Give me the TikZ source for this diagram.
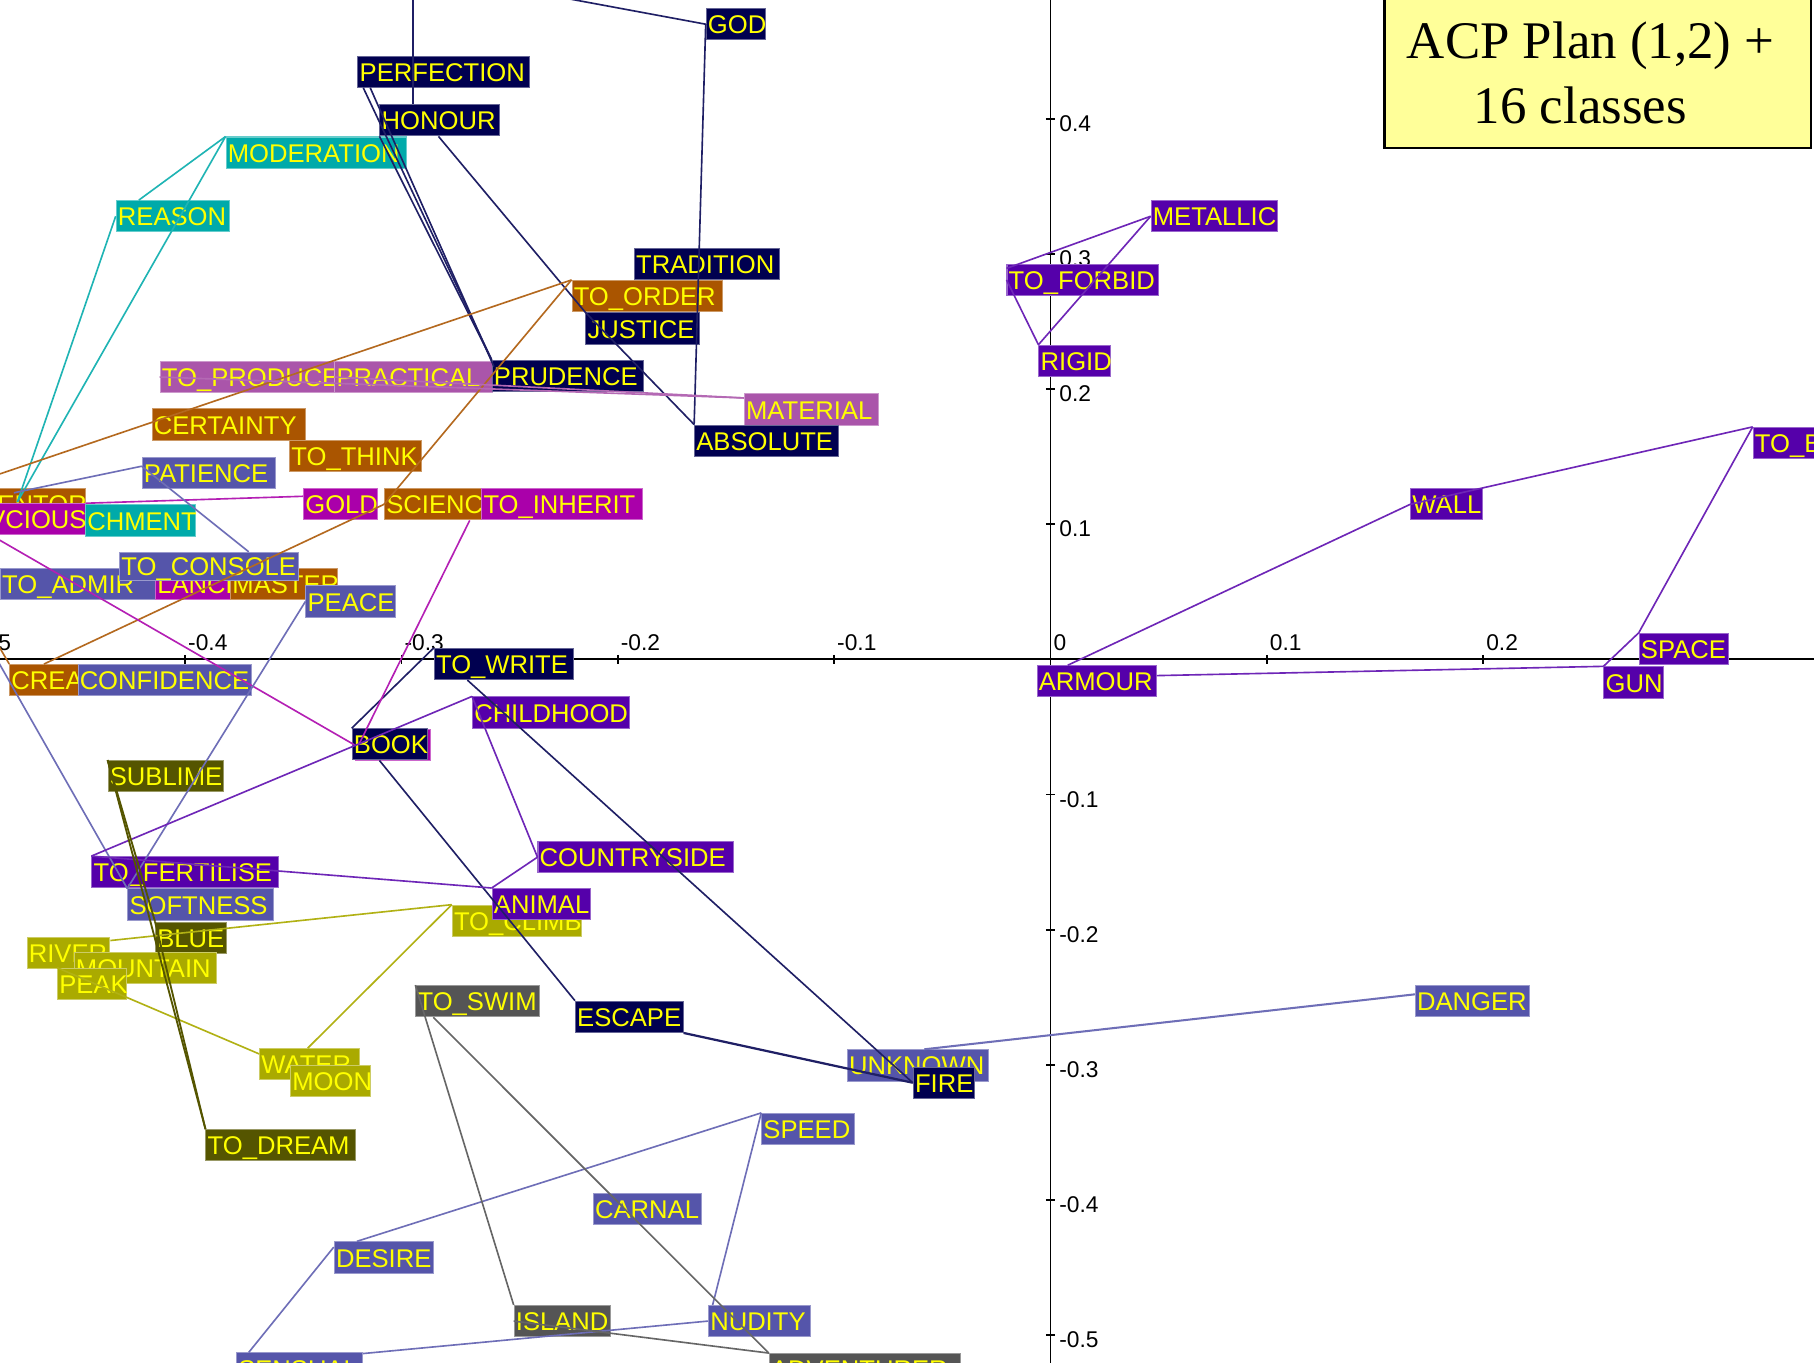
\documentclass[tikz,border=0pt]{standalone}
\usepackage{fontspec}
\setmainfont{Liberation Serif}
\newfontfamily\labfont{Liberation Sans}
\usetikzlibrary{calc}

\definecolor{cNavy}{HTML}{000050}
\definecolor{cCyan}{HTML}{00AAAA}
\definecolor{cOrange}{HTML}{AA5500}
\definecolor{cMauve}{HTML}{AA55AA}
\definecolor{cMag}{HTML}{AA00AA}
\definecolor{cSlate}{HTML}{5555AA}
\definecolor{cPurple}{HTML}{5500AA}
\definecolor{cOlive}{HTML}{AAAA00}
\definecolor{cDkOlive}{HTML}{555500}
\definecolor{cGray}{HTML}{555555}
\definecolor{labyellow}{HTML}{FFFF00}
\definecolor{titlefill}{HTML}{FFFF99}

% fixed-width, left-aligned label text
\newcommand\bx[2]{\makebox[#1mm][l]{#2}}

\tikzset{
  lab/.style={anchor=north west, inner xsep=0.15mm, inner ysep=0pt, minimum height=2.7mm,
    text height=5.2pt, text depth=0.5pt, text=labyellow, line width=0.25pt,
    font=\labfont\fontsize{6.3}{7}\selectfont},
  fnavy/.style={lab, fill=cNavy, draw=cNavy!60!white},
  fcyan/.style={lab, fill=cCyan, draw=cCyan!60!white},
  forange/.style={lab, fill=cOrange, draw=cOrange!60!white},
  fmauve/.style={lab, fill=cMauve, draw=cMauve!60!white},
  fmag/.style={lab, fill=cMag, draw=cMag!60!white},
  fslate/.style={lab, fill=cSlate, draw=cSlate!60!white},
  fpurple/.style={lab, fill=cPurple, draw=cPurple!60!white},
  folive/.style={lab, fill=cOlive, draw=cOlive!60!white},
  fdkolive/.style={lab, fill=cDkOlive, draw=cDkOlive!60!white},
  fgray/.style={lab, fill=cGray, draw=cGray!60!white},
  lnavy/.style={draw=cNavy!88!white, line width=0.4pt},
  lcyan/.style={draw=cCyan!88!white, line width=0.4pt},
  lorange/.style={draw=cOrange!88!white, line width=0.4pt},
  lmauve/.style={draw=cMauve!88!white, line width=0.4pt},
  lmag/.style={draw=cMag!88!white, line width=0.4pt},
  lslate/.style={draw=cSlate!85!white, line width=0.4pt},
  lpurple/.style={draw=cPurple!85!white, line width=0.4pt},
  lolive/.style={draw=cOlive!92!white, line width=0.4pt},
  ldkolive/.style={draw=cDkOlive, line width=0.45pt},
  lgray/.style={draw=cGray!90!white, line width=0.4pt},
  axisline/.style={draw=black, line width=0.45pt},
  ticklab/.style={font=\labfont\fontsize{5.6}{6}\selectfont, inner sep=0pt, text=black},
}

\begin{document}
\begin{tikzpicture}[x=0.1mm, y=-0.1mm]
\useasboundingbox (0,0) rectangle (1568,1178);
\clip (0,0) rectangle (1568,1178);
\fill[white] (0,0) rectangle (1568,1178);

% ---------------- axes ----------------
\draw[axisline] (0,570) -- (1568,570);
\draw[axisline] (908,0) -- (908,1178);
\foreach \v/\t [count=\i] in {-27/-0.5, 160/-0.4, 347/-0.3, 534/-0.2, 721/-0.1, 908/0, 1095/0.1, 1282/0.2} {
  \draw[axisline] (\v,566) -- (\v,574);
  \node[ticklab, anchor=south west] (xt\i) at (\v+2,563) {\t};
}
\draw[axisline] (1469,566) -- (1469,574);
\foreach \v/\t [count=\i] in {102.8/0.4, 219.6/0.3, 336.4/0.2, 453.2/0.1, 686.8/-0.1, 803.6/-0.2, 920.4/-0.3, 1037.2/-0.4, 1154/-0.5} {
  \draw[axisline] (904,\v) -- (912,\v);
  \node[ticklab, anchor=west] (yt\i) at (915,\v+4) {\t};
}

% ---------------- labels ----------------
% upper cluster
\node[fnavy] (GOD) at (610,7) {\bx{4.8}{GOD}};
\node[fnavy] (PERFECTION) at (309,48) {\bx{14.5}{PERFECTION}};
\node[fnavy] (HONOUR) at (328,90) {\bx{10.0}{HONOUR}};
\node[fcyan] (MODERATION) at (195,118) {\bx{15.3}{MODERATION}};
\node[fcyan] (REASON) at (100,173) {\bx{9.5}{REASON}};
\node[fnavy] (TRADITION) at (548,214) {\bx{12.2}{TRADITION}};
\node[forange] (TOORDER) at (494,242) {\bx{12.7}{TO\_ORDER}};
\node[fnavy] (JUSTICE) at (506,270) {\bx{9.5}{JUSTICE}};
\node[fmauve] (TOPRODUCE) at (138,312) {\bx{14.9}{TO\_PRODUCE}};
\node[fmauve] (PRACTICAL) at (289,312) {\bx{13.3}{PRACTICAL}};
\node[fnavy] (PRUDENCE) at (425,311) {\bx{12.8}{PRUDENCE}};
\node[fmauve] (MATERIAL) at (643,340) {\bx{11.3}{MATERIAL}};
\node[fnavy] (ABSOLUTE) at (600,367) {\bx{12.1}{ABSOLUTE}};
\node[forange] (CERTAINTY) at (131,353) {\bx{13.0}{CERTAINTY}};
\node[forange] (TOTHINK) at (250,380) {\bx{11.1}{TO\_THINK}};
\node[fslate] (PATIENCE) at (122.5,395) {\bx{11.25}{PATIENCE}};
\node[forange] (SCIENCE) at (332,422) {\bx{9.7}{SCIENCE}};
\node[fmag] (TOINHERIT) at (416,422) {\bx{13.6}{TO\_INHERIT}};
\node[fmag] (GOLD) at (262,422) {\bx{6.1}{GOLD}};

% left cluster
\node[forange] (ENTOR) at (-4,422) {\bx{7.45}{ENTOR}};
\node[fmag] (VCIOUS) at (-12,435) {\bx{8.25}{VCIOUS}};
\node[fcyan] (CHMENT) at (73.5,436) {\bx{9.2}{CHMENT}};
\node[fslate] (TOADMIRE) at (0,491) {\bx{13.1}{TO\_ADMIR}};
\node[fmag] (LANCE) at (134,491) {\bx{6.2}{LANCE}};
\node[forange] (MASTER) at (199,491) {\bx{8.9}{MASTER}};
\node[fslate] (PEACE) at (264,506) {\bx{7.4}{PEACE}};
\node[fslate, minimum height=2.4mm] (TOCONSOLE) at (103,477) {\bx{15.2}{TO\_CONSOLE}};
\node[forange] (CREA) at (8,574) {\bx{5.6}{CREA}};
\node[fslate] (CONFIDENCE) at (67,574) {\bx{14.7}{CONFIDENCE}};

% middle
\node[fnavy] (TOWRITE) at (375,560) {\bx{11.7}{TO\_WRITE}};
\node[fpurple] (CHILDHOOD) at (408,602) {\bx{13.3}{CHILDHOOD}};
\node[fmag] (MAGBOOK) at (306.5,630) {\bx{6.2}{}};
\node[fnavy] (BOOK) at (304,629.5) {\bx{6.2}{BOOK}};
\node[fdkolive] (SUBLIME) at (93,657) {\bx{9.65}{SUBLIME}};
\node[fpurple] (COUNTRYSIDE) at (464.6,727) {\bx{16.6}{COUNTRYSIDE}};
\node[fpurple] (TOFERTILISE) at (79,740) {\bx{15.8}{TO\_FERTILISE}};
\node[fslate] (SOFTNESS) at (110,768) {\bx{12.3}{SOFTNESS}};
\node[folive] (TOCLIMB) at (390.5,782) {\bx{10.85}{TO\_CLIMB}};
\node[fpurple] (ANIMAL) at (425,767.6) {\bx{8.2}{ANIMAL}};
\node[fdkolive] (BLUE) at (134,796.6) {\bx{5.8}{BLUE}};
\node[folive] (RIVER) at (23,810) {\bx{6.85}{RIVER}};
\node[folive] (MOUNTAIN) at (63.7,823) {\bx{12.0}{MOUNTAIN}};
\node[folive] (PEAK) at (49.4,836.5) {\bx{5.65}{PEAK}};
\node[fgray] (TOSWIM) at (359,851.5) {\bx{10.4}{TO\_SWIM}};
\node[fnavy] (ESCAPE) at (497,865) {\bx{9.0}{ESCAPE}};
\node[folive] (WATER) at (224,906) {\bx{8.35}{WATER}};
\node[folive] (MOON) at (250.8,920.6) {\bx{6.6}{MOON}};
\node[fdkolive] (TODREAM) at (177.6,976) {\bx{12.6}{TO\_DREAM}};

% lower cluster
\node[fslate] (UNKNOWN) at (732,907) {\bx{11.9}{UNKNOWN}};
\node[fnavy] (FIRE) at (789,922) {\bx{5.0}{FIRE}};
\node[fslate] (DANGER) at (1223,851.5) {\bx{9.6}{DANGER}};
\node[fslate] (SPEED) at (658,962) {\bx{7.7}{SPEED}};
\node[fslate] (CARNAL) at (512.5,1031) {\bx{9.05}{CARNAL}};
\node[fslate] (DESIRE) at (288.5,1073) {\bx{8.3}{DESIRE}};
\node[fgray] (ISLAND) at (444,1128) {\bx{8.0}{ISLAND}};
\node[fslate] (NUDITY) at (612,1128) {\bx{8.5}{NUDITY}};
\node[fslate] (SENSUAL) at (204,1169) {\bx{10.6}{SENSUAL}};
\node[fgray] (ADVENTURER) at (664.6,1169.6) {\bx{16.2}{ADVENTURER}};

% right side
\node[fpurple] (METALLIC) at (994.6,173) {\bx{10.6}{METALLIC}};
\node[fpurple] (TOFORBID) at (870,228) {\bx{12.8}{TO\_FORBID}};
\node[fpurple] (RIGID) at (897.6,298) {\bx{5.9}{RIGID}};
\node[fpurple] (WALL) at (1219,422) {\bx{5.9}{WALL}};
\node[fpurple] (TOB) at (1515,369) {\bx{8.2}{TO\_B}};
\node[fpurple] (SPACE) at (1416.5,547) {\bx{7.45}{SPACE}};
\node[fpurple] (GUN) at (1386,576) {\bx{4.85}{GUN}};
\node[fpurple] (ARMOUR) at (896,575) {\bx{10.0}{ARMOUR}};

% ---------------- free ends beyond the frame ----------------
\coordinate (offGod) at (400,-18);
\coordinate (offHon) at (357,-20);
\coordinate (attach) at (15,434);
\coordinate (offOrA) at (-60,430);
\coordinate (offOrB) at (-20,526);
\coordinate (offMag) at (-40,444);
\coordinate (slL) at (12,426);
\coordinate (offSl) at (-30,522);

% ---------------- connectors ----------------
% navy class
\draw[lnavy] (offGod) -- (GOD.west);
\draw[lnavy] (offHon) -- ($(HONOUR.north west)+(29,0)$);
\draw[lnavy] (GOD.west) -- (ABSOLUTE.north west);
\draw[lnavy] ($(PERFECTION.south west)+(5,0)$) -- (PRUDENCE.north west);
\draw[lnavy] ($(PERFECTION.south west)+(11,0)$) -- ($(PRUDENCE.north west)+(2,6)$);
\draw[lnavy] (HONOUR.south west) -- (PRUDENCE.north west);
\draw[lnavy] ($(HONOUR.south west)+(51,0)$) -- (JUSTICE.north west);
\draw[lnavy] (JUSTICE.north west) -- (ABSOLUTE.north west);
\draw[lnavy] (BOOK.north west) -- (TOWRITE.north west);
\draw[lnavy] ($(TOWRITE.south west)+(29,0)$) -- (FIRE.west);
\draw[lnavy] ($(BOOK.south west)+(24,0)$) -- (ESCAPE.north west);
\draw[lnavy, line width=0.55pt] (ESCAPE.south east) -- (FIRE.west);

% cyan class
\draw[lcyan] (MODERATION.north west) -- ($(REASON.north west)+(20,0)$);
\draw[lcyan] (MODERATION.north west) -- (attach);
\draw[lcyan] (REASON.west) -- (attach);

% orange class
\draw[lorange] (TOORDER.north west) -- (offOrA);
\draw[lorange] (TOORDER.north west) -- (SCIENCE.west);
\draw[lorange] (SCIENCE.west) -- ($(CREA.north west)+(30,0)$);
\draw[lorange] (CREA.north west) -- (offOrB);

% mauve class
\draw[lmauve] (TOPRODUCE.west) -- ($(MATERIAL.north west)+(0,4)$);
\draw[lmauve] (PRACTICAL.west) -- ($(MATERIAL.north west)+(0,4)$);

% magenta class
\draw[lmag] ($(GOLD.north west)+(0,7)$) -- (VCIOUS.north east);
\draw[lmag] (offMag) -- (MAGBOOK.west);
\draw[lmag] ($(MAGBOOK.west)+(3.5,0)$) -- ($(TOINHERIT.south west)+(-10,0)$);

% slate class
\draw[lslate] ($(PATIENCE.north west)+(0,8)$) -- (slL);
\draw[lslate] ($(PATIENCE.north west)+(0,8)$) -- ($(TOCONSOLE.north west)+(112,0)$);
\draw[lslate] (PEACE.west) -- (SOFTNESS.north west);
\draw[lslate] (offSl) -- (SOFTNESS.north west);
\draw[lslate, line width=0.5pt] ($(DANGER.north west)+(0,8)$) -- ($(UNKNOWN.north west)+(67,0)$);
\draw[lslate] (SPEED.north west) -- ($(DESIRE.north west)+(20,0)$);
\draw[lslate] (SPEED.north west) -- ($(NUDITY.north west)+(4,0)$);
\draw[lslate] (NUDITY.west) -- ($(SENSUAL.north east)+(0,1)$);
\draw[lslate] ($(DESIRE.north west)+(0,5)$) -- ($(SENSUAL.north west)+(11,0)$);

% purple class
\draw[lpurple] ($(TOFORBID.north west)+(0,4)$) -- (METALLIC.west);
\draw[lpurple] (METALLIC.west) -- (RIGID.north west);
\draw[lpurple] (TOFORBID.west) -- (RIGID.north west);
\draw[lpurple] ($(ARMOUR.north west)+(27,0)$) -- (WALL.west);
\draw[lpurple] (WALL.west) -- (TOB.north west);
\draw[lpurple] (TOB.north west) -- (SPACE.north west);
\draw[lpurple] (SPACE.north west) -- (GUN.north west);
\draw[lpurple] ($(ARMOUR.north east)+(0,9)$) -- (GUN.north west);
\draw[lpurple] (CHILDHOOD.north west) -- (TOFERTILISE.north west);
\draw[lpurple] (CHILDHOOD.north west) -- (COUNTRYSIDE.west);
\draw[lpurple] (COUNTRYSIDE.west) -- (ANIMAL.north west);
\draw[lpurple] (TOFERTILISE.north west) -- (ANIMAL.north west);

% olive class
\draw[lolive] (TOCLIMB.north west) -- ($(RIVER.north east)+(0,3)$);
\draw[lolive] (TOCLIMB.north west) -- ($(WATER.north west)+(42,0)$);
\draw[lolive] (PEAK.north west) -- ($(WATER.north west)+(0,5)$);

% dark olive class
\draw[ldkolive] (SUBLIME.north west) -- (TODREAM.north west);
\draw[ldkolive] (SUBLIME.north west) -- (BLUE.north west);
\draw[ldkolive] (BLUE.north west) -- (TODREAM.north west);

% grey class
\draw[lgray] (TOSWIM.north west) -- (ISLAND.north west);
\draw[lgray] ($(TOSWIM.south west)+(15.5,0)$) -- (ADVENTURER.north west);
\draw[lgray] (ISLAND.west) -- (ADVENTURER.north west);

% ---------------- title ----------------
\node[anchor=north west, draw=black, fill=titlefill, line width=0.6pt,
      minimum width=36.9mm, minimum height=13.2mm, inner sep=0pt] (TITLE) at (1195.5,-5) {};
\node[anchor=base, font=\fontsize{13}{15.8}\selectfont, inner sep=0pt] (title1) at (1375,51) {ACP Plan (1,2) +};
\node[anchor=base, font=\fontsize{13}{15.8}\selectfont, inner sep=0pt] (title2) at (1366,106.6) {16 classes};
\end{tikzpicture}
\end{document}
